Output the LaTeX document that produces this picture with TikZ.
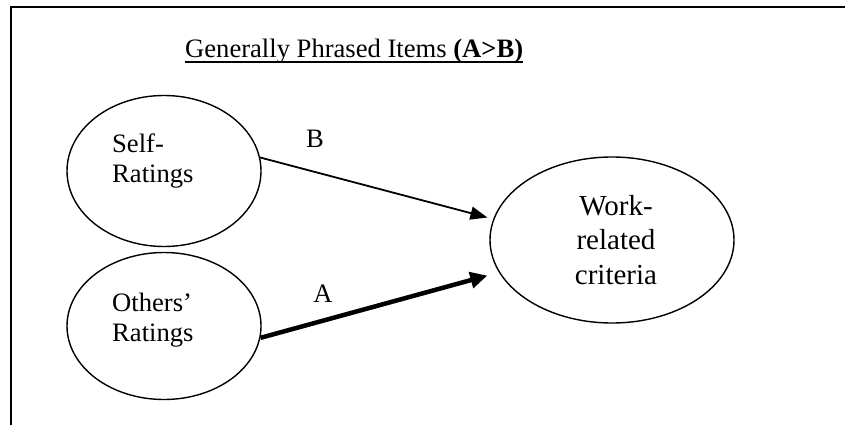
\documentclass[tikz,border=0pt]{standalone}
\usepackage{fontspec}
\setmainfont{Liberation Serif}
\usetikzlibrary{shapes.geometric,arrows.meta}
\begin{document}
\begin{tikzpicture}[x=1pt,y=-1pt,
        oval/.style={draw,ellipse,line width=1.4pt,inner sep=0pt},
        lbl/.style={font=\fontsize{26.6}{30}\selectfont,inner sep=0pt},
        link/.style={line width=1.8pt,-{Triangle[length=17pt,width=13pt]}}]
    \useasboundingbox (0,0) rectangle (845,425);
    \draw[line width=2pt] (11,425) -- (11,7) -- (845,7);
    % title
    \node[lbl,anchor=base west] (title) at (185,58) {Generally Phrased Items \textbf{(A>B)}};
    \draw[line width=1.5pt] ([yshift=-4pt]title.base west) -- ([yshift=-4pt]title.base east);
    % ratings
    \node[oval,minimum width=194pt,minimum height=151pt] (self) at (164,171) {};
    \node[lbl,anchor=base west,align=left] (selftxt) at (112,182) {Self-\\Ratings};
    \node[oval,minimum width=194pt,minimum height=147pt] (others) at (164,326) {};
    \node[lbl,anchor=base west,align=left] (otherstxt) at (112,341) {Others’\\Ratings};
    % criteria
    \node[oval,minimum width=244pt,minimum height=166pt] (work) at (612,240) {};
    \node[font=\fontsize{29}{34.5}\selectfont,inner sep=0pt,anchor=base,align=center] (worktxt) at (616,284) {Work-\\related\\criteria};
    \draw[link,shorten >=6pt] (self.8) -- (work.170);
    \draw[link,line width=4.5pt,-{Triangle[length=17pt,width=16pt]},shorten >=12pt] (others.-7) -- (work.196);
    \node[lbl,anchor=base] (b) at (315,147) {B};
    \node[lbl,anchor=base] (a) at (323,302) {A};
\end{tikzpicture}
\end{document}
